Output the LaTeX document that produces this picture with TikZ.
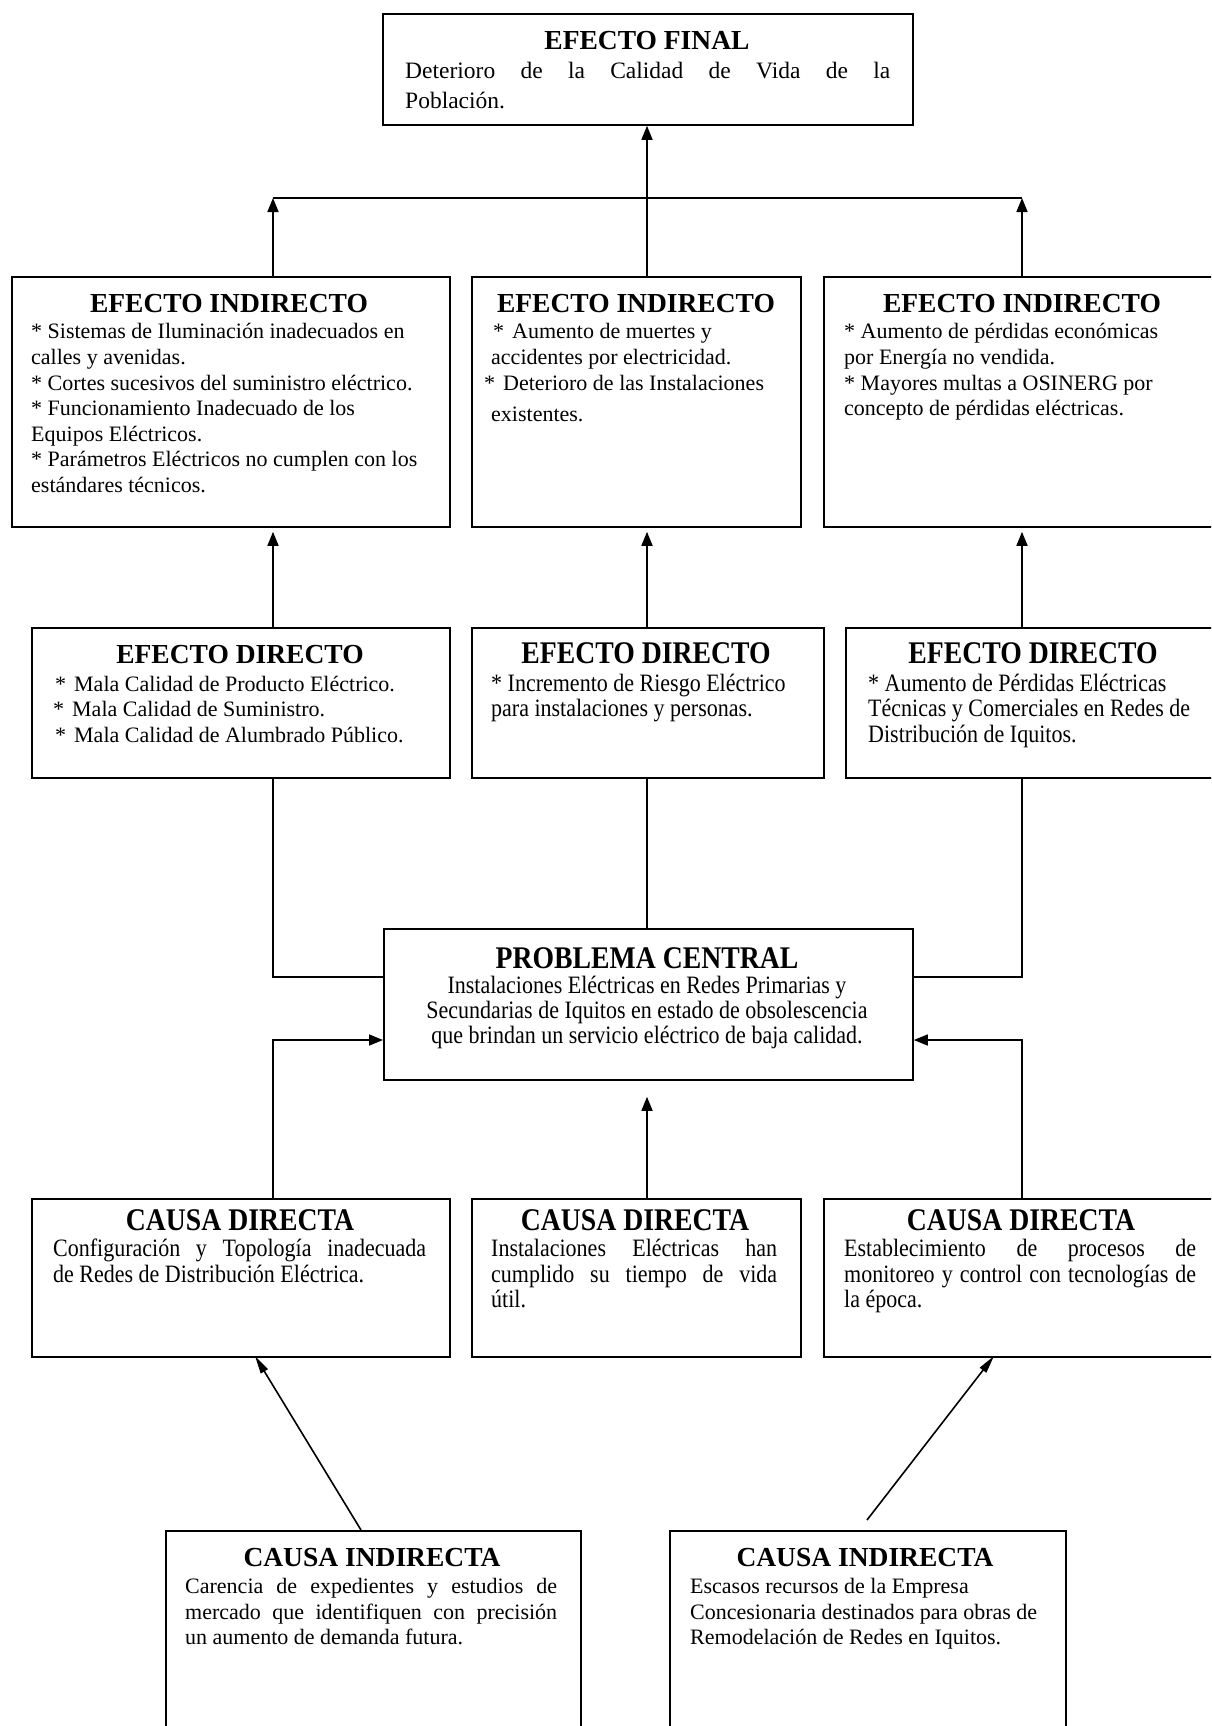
\documentclass[tikz,border=0pt]{standalone}
\usepackage{fontspec}
\setmainfont{Liberation Serif}
\newfontfamily\condfont[FakeStretch=0.88]{Liberation Serif}
\usetikzlibrary{arrows.meta}
\begin{document}
\begin{tikzpicture}[x=1pt,y=-1pt,
  box/.style={draw, line width=1.8pt, inner sep=0pt, anchor=north west},
  ttl/.style={anchor=base, inner sep=0pt, font=\bfseries\fontsize{27.5}{30}\selectfont},
  cttl/.style={anchor=base, inner sep=0pt, font=\condfont\bfseries\fontsize{31.5}{34}\selectfont},
  txt/.style={anchor=base west, inner sep=0pt, font=\fontsize{22}{25}\selectfont},
  ftxt/.style={anchor=base west, inner sep=0pt, font=\fontsize{23.5}{26}\selectfont},
  ctxt/.style={anchor=base west, inner sep=0pt, font=\condfont\fontsize{25}{28}\selectfont},
  cctr/.style={anchor=base, inner sep=0pt, font=\condfont\fontsize{25}{28}\selectfont},
  ln/.style={line width=1.6pt},
  arr/.style={ln, -{Triangle[length=14pt,width=11pt]}},
  darr/.style={ln, -{Triangle[length=18pt,width=8pt]}}
]
\useasboundingbox (0,0) rectangle (1211,1726);
\clip (0,0) rectangle (1211,1726);
\fill[white] (0,0) rectangle (1211,1726);

% ---------- boxes ----------
\node[box, minimum width=530pt, minimum height=111pt] (ef) at (382,13) {};
\node[box, minimum width=438pt, minimum height=250pt] (ei1) at (11,276) {};
\node[box, minimum width=329pt, minimum height=250pt] (ei2) at (471,276) {};
\node[box, minimum width=420pt, minimum height=250pt] (ei3) at (823,276) {};
\node[box, minimum width=418pt, minimum height=150pt] (ed1) at (31,627) {};
\node[box, minimum width=352pt, minimum height=150pt] (ed2) at (471,627) {};
\node[box, minimum width=400pt, minimum height=150pt] (ed3) at (845,627) {};
\node[box, minimum width=529pt, minimum height=151pt] (pc) at (383,928) {};
\node[box, minimum width=418pt, minimum height=158pt] (cd1) at (31,1198) {};
\node[box, minimum width=329pt, minimum height=158pt] (cd2) at (471,1198) {};
\node[box, minimum width=420pt, minimum height=158pt] (cd3) at (823,1198) {};
\node[box, minimum width=415pt, minimum height=230pt] (ci1) at (165,1530) {};
\node[box, minimum width=396pt, minimum height=230pt] (ci2) at (669,1530) {};

% ---------- texts ----------
% Efecto final
\node[ttl] (t-ef) at (647,50) {EFECTO FINAL};
\node[ftxt] (t-ef1) at (405,79) {\makebox[485pt][s]{Deterioro de la Calidad de Vida de la}};
\node[ftxt] (t-ef2) at (405,109) {Población.};

% Efecto indirecto 1
\node[ttl] (t-ei1) at (229,312) {EFECTO INDIRECTO};
\node[txt] (t-ei1a) at (31,338) {* Sistemas de Iluminación inadecuados en};
\node[txt] (t-ei1b) at (31,364) {calles y avenidas.};
\node[txt] (t-ei1c) at (31,390) {* Cortes sucesivos del suministro eléctrico.};
\node[txt] (t-ei1d) at (31,415) {* Funcionamiento Inadecuado de los};
\node[txt] (t-ei1e) at (31,441) {Equipos Eléctricos.};
\node[txt] (t-ei1f) at (31,466) {* Parámetros Eléctricos no cumplen con los};
\node[txt] (t-ei1g) at (31,492) {estándares técnicos.};

% Efecto indirecto 2
\node[ttl] (t-ei2) at (636,312) {EFECTO INDIRECTO};
\node[txt] (t-ei2a) at (493,338) {*\hspace{8pt}Aumento de muertes y};
\node[txt] (t-ei2b) at (491,364) {accidentes por electricidad.};
\node[txt] (t-ei2c) at (484,390) {*\hspace{8pt}Deterioro de las Instalaciones};
\node[txt] (t-ei2d) at (491,421) {existentes.};

% Efecto indirecto 3
\node[ttl] (t-ei3) at (1022,312) {EFECTO INDIRECTO};
\node[txt] (t-ei3a) at (844,338) {* Aumento de pérdidas económicas};
\node[txt] (t-ei3b) at (844,364) {por Energía no vendida.};
\node[txt] (t-ei3c) at (844,390) {* Mayores multas a OSINERG por};
\node[txt] (t-ei3d) at (844,415) {concepto de pérdidas eléctricas.};

% Efecto directo 1
\node[ttl] (t-ed1) at (240,663) {EFECTO DIRECTO};
\node[txt] (t-ed1a) at (55,691) {*\hspace{8pt}Mala Calidad de Producto Eléctrico.};
\node[txt] (t-ed1b) at (53,716) {*\hspace{8pt}Mala Calidad de Suministro.};
\node[txt] (t-ed1c) at (55,742) {*\hspace{8pt}Mala Calidad de Alumbrado Público.};

% Efecto directo 2
\node[cttl] (t-ed2) at (646,663) {EFECTO DIRECTO};
\node[ctxt] (t-ed2a) at (491,691) {* Incremento de Riesgo Eléctrico};
\node[ctxt] (t-ed2b) at (491,716) {para instalaciones y personas.};

% Efecto directo 3
\node[cttl] (t-ed3) at (1033,663) {EFECTO DIRECTO};
\node[ctxt] (t-ed3a) at (868,691) {* Aumento de Pérdidas Eléctricas};
\node[ctxt] (t-ed3b) at (868,716) {Técnicas y Comerciales en Redes de};
\node[ctxt] (t-ed3c) at (868,742) {Distribución de Iquitos.};

% Problema central
\node[cttl] (t-pc) at (647,968) {PROBLEMA CENTRAL};
\node[cctr] (t-pca) at (647,993) {Instalaciones Eléctricas en Redes Primarias y};
\node[cctr] (t-pcb) at (647,1018) {Secundarias de Iquitos en estado de obsolescencia};
\node[cctr] (t-pcc) at (647,1043) {que brindan un servicio eléctrico de baja calidad.};

% Causa directa 1
\node[cttl] (t-cd1) at (240,1230) {CAUSA DIRECTA};
\node[ctxt] (t-cd1a) at (53,1256) {\makebox[373pt][s]{Configuración y Topología inadecuada}};
\node[ctxt] (t-cd1b) at (53,1282) {de Redes de Distribución Eléctrica.};

% Causa directa 2
\node[cttl] (t-cd2) at (635,1230) {CAUSA DIRECTA};
\node[ctxt] (t-cd2a) at (491,1256) {\makebox[286pt][s]{Instalaciones Eléctricas han}};
\node[ctxt] (t-cd2b) at (491,1282) {\makebox[286pt][s]{cumplido su tiempo de vida}};
\node[ctxt] (t-cd2c) at (491,1307) {útil.};

% Causa directa 3
\node[cttl] (t-cd3) at (1021,1230) {CAUSA DIRECTA};
\node[ctxt] (t-cd3a) at (844,1256) {\makebox[352pt][s]{Establecimiento de procesos de}};
\node[ctxt] (t-cd3b) at (844,1282) {\makebox[352pt][s]{monitoreo y control con tecnologías de}};
\node[ctxt] (t-cd3c) at (844,1307) {la época.};

% Causa indirecta 1
\node[ttl] (t-ci1) at (372,1566) {CAUSA INDIRECTA};
\node[txt] (t-ci1a) at (185,1593) {\makebox[372pt][s]{Carencia de expedientes y estudios de}};
\node[txt] (t-ci1b) at (185,1619) {\makebox[372pt][s]{mercado que identifiquen con precisión}};
\node[txt] (t-ci1c) at (185,1644) {un aumento de demanda futura.};

% Causa indirecta 2
\node[ttl] (t-ci2) at (865,1566) {CAUSA INDIRECTA};
\node[txt] (t-ci2a) at (690,1593) {Escasos recursos de la Empresa};
\node[txt] (t-ci2b) at (690,1619) {Concesionaria destinados para obras de};
\node[txt] (t-ci2c) at (690,1644) {Remodelación de Redes en Iquitos.};

% ---------- connectors ----------
\coordinate (cL) at (273,198);
\coordinate (cM) at (647,198);
\coordinate (cR) at (1022,198);
\coordinate (hA) at (0,977);
\coordinate (hB) at (0,1040);

\draw[ln] (cL) -- (cR);
\draw[arr] (cM) -- (cM |- ef.south);
\draw[arr] (cL |- ei1.north) -- (cL);
\draw[ln] (cM |- ei2.north) -- (cM);
\draw[arr] (cR |- ei3.north) -- (cR);

\draw[arr, shorten >=4pt] (cL |- ed1.north) -- (cL |- ei1.south);
\draw[arr, shorten >=4pt] (cM |- ed2.north) -- (cM |- ei2.south);
\draw[arr, shorten >=4pt] (cR |- ed3.north) -- (cR |- ei3.south);

\draw[ln] (cL |- ed1.south) -- (cL |- hA) -- (pc.west |- hA);
\draw[ln] (cM |- ed2.south) -- (cM |- pc.north);
\draw[ln] (cR |- ed3.south) -- (cR |- hA) -- (pc.east |- hA);

\draw[arr] (cL |- cd1.north) -- (cL |- hB) -- (pc.west |- hB);
\draw[arr, shorten >=16pt] (cM |- cd2.north) -- (cM |- pc.south);
\draw[arr] (cR |- cd3.north) -- (cR |- hB) -- (pc.east |- hB);

\coordinate (d1s) at (361,1530);
\coordinate (d1e) at (255,1356);
\coordinate (d2s) at (867,1520);
\coordinate (d2e) at (994,1356);
\draw[darr] (d1s) -- (d1e);
\draw[darr] (d2s) -- (d2e);
\end{tikzpicture}
\end{document}
